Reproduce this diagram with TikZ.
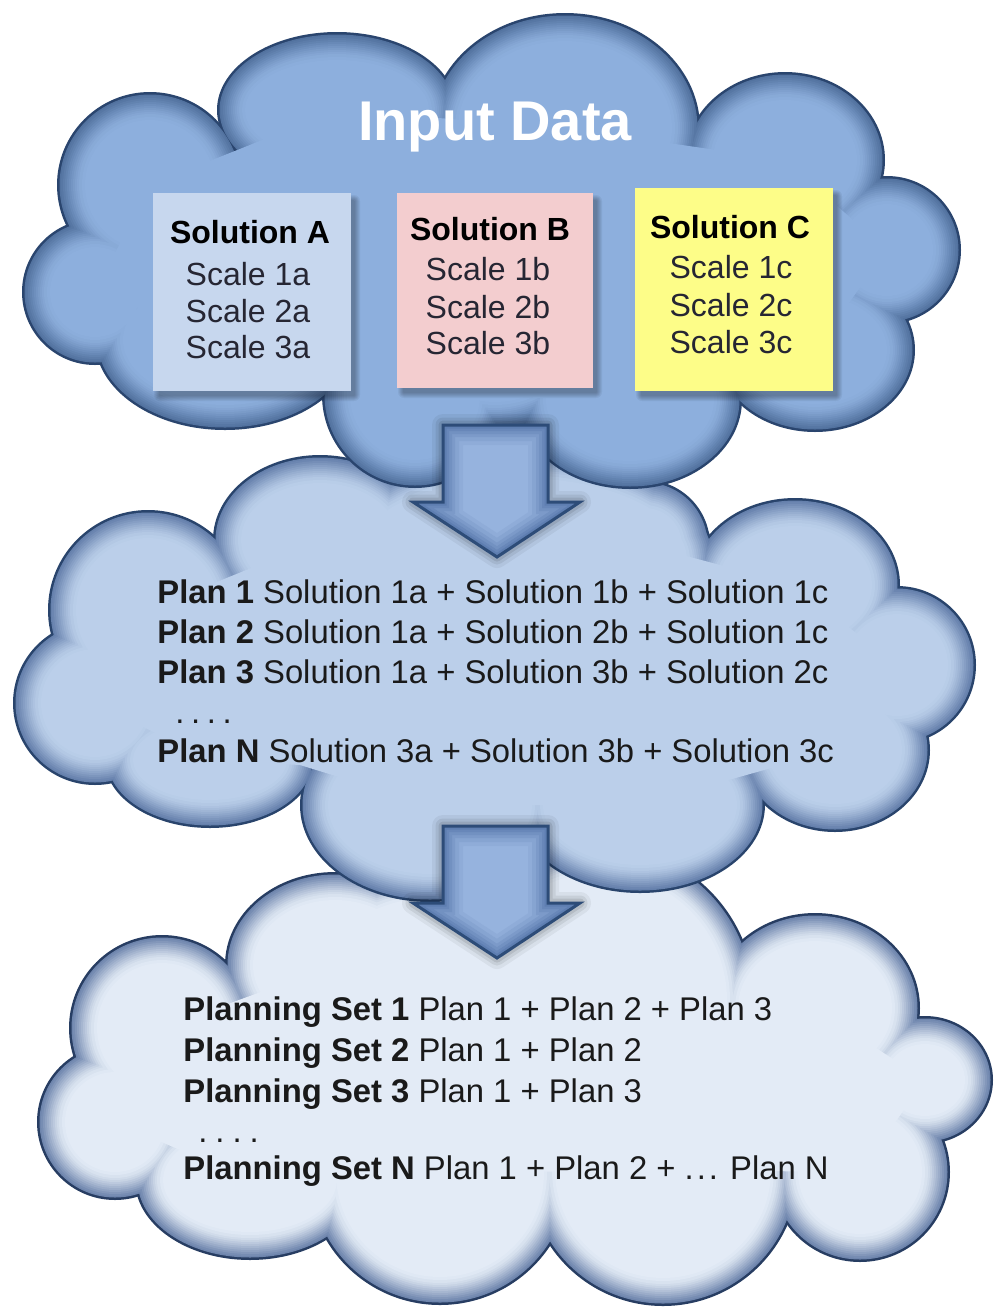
\documentclass[tikz,border=0pt]{standalone}
\usepackage{fontspec}
\setmainfont{Liberation Sans}
\definecolor{tborder}{HTML}{2A456E}
\definecolor{tedge}{HTML}{52729F}
\definecolor{tfill}{HTML}{8DAFDD}
\definecolor{mborder}{HTML}{29446C}
\definecolor{medge}{HTML}{6580AC}
\definecolor{mfill}{HTML}{BBCFEA}
\definecolor{bborder}{HTML}{273D62}
\definecolor{bedge}{HTML}{6E85AD}
\definecolor{bfill}{HTML}{E3EBF6}
\definecolor{aborder}{HTML}{2D4C78}
\definecolor{aedge}{HTML}{5878AC}
\definecolor{afill}{HTML}{96B3DE}
\definecolor{boxA}{HTML}{C7D7EE}
\definecolor{boxB}{HTML}{F3CDCF}
\definecolor{boxC}{HTML}{FDFD88}
\definecolor{txtc}{HTML}{1A1A1A}
\definecolor{boxtxtc}{HTML}{262633}

% #1 list of ellipses cx/cy/rx/ry, #2 border, #3 edge, #4 fill, #5 interior polygon
\newcommand\cloudlayers[5]{%
  \foreach \cx/\cy/\rx/\ry in #1 {\fill[#2] (\cx,\cy) ellipse [x radius=\rx*0.5pt, y radius=\ry*0.5pt];}%
  \foreach \dlt/\pct in {2.5/0,4/8,6/18,8/28,10/38,12/48,14/58,16/67,18/76,20/84,22/91,25/97,28/100} {%
    \foreach \cx/\cy/\rx/\ry in #1 {\fill[#4!\pct!#3] (\cx,\cy) ellipse [x radius={(\rx-\dlt)*0.5pt}, y radius={(\ry-\dlt)*0.5pt}];}%
  }%
  \fill[#4] #5;%
}

\newcommand\fatarrow[1]{%
  \begin{scope}[shift={(0,#1)}]
    \def\arrowpath{(443,0) -- (548,0) -- (548,77) -- (580,77) -- (497,132) -- (413,77) -- (443,77) -- cycle}
    \foreach \w/\o in {22/0.05,15/0.07,9/0.09} {\draw[black, opacity=\o, line width=\w*0.5pt, line join=round] \arrowpath;}
    \fill[afill] \arrowpath;
    \begin{scope}
      \clip \arrowpath;
      \foreach \w/\pct in {40/88,32/74,24/58,18/42,12/26,7/10} {\draw[afill!\pct!aedge, line width=\w*0.5pt, line join=miter] \arrowpath;}
    \end{scope}
    \draw[aborder, line width=1.5pt, line join=miter] \arrowpath;
  \end{scope}
}

\newcommand\boxshadow[4]{%
  \foreach \k in {1,...,6} {\fill[black, opacity=0.05, rounded corners=\k*0.5pt] (#1+7-\k, #2+8-\k) rectangle (#3+3+\k, #4+4+\k);}%
}

\def\topshapes{565/128/135/115, 337/110/120/78, 150/185/93/93, 95/292/73/73, 225/340/130/90, 415/395/93/93, 495/330/110/100, 630/400/112/89, 815/350/100/82, 887/250/74/74, 785/160/100/88}
\def\midshapes{320/540/107/85, 148/610/100/100, 95/703/82/82, 210/760/105/68, 430/805/130/97, 640/805/125/88, 835/750/95/82, 897/665/79/79, 795/585/105/87, 520/560/195/110, 645/545/65/65}
\def\botshapes{335/965/110/93, 162/1028/93/93, 115/1122/78/78, 250/1180/115/80, 440/1173/132/132, 663/1170/136/136, 860/1172/90/90, 925/1080/68/64, 815/1008/105/95, 600/1000/155/155, 430/990/140/120}

\begin{document}
\begin{tikzpicture}[x=0.5pt, y=-0.5pt,
  line/.style={inner sep=0pt, anchor=base west, text=txtc, font=\fontsize{16.4pt}{19pt}\selectfont},
  boxline/.style={inner sep=0pt, anchor=base, text=boxtxtc, font=\fontsize{16pt}{19pt}\selectfont},
  boxtitle/.style={inner sep=0pt, anchor=base, text=black, font=\fontsize{16pt}{19pt}\selectfont\bfseries},
  card/.style={inner sep=0pt, draw=none}]
\useasboundingbox (0,0) rectangle (993,1308);
\fill[white] (0,0) rectangle (993,1308);

% bottom cloud
\cloudlayers{\botshapes}{bborder}{bedge}{bfill}{(335,965) -- (430,990) -- (600,1000) -- (815,1008) -- (925,1080) -- (860,1172) -- (663,1170) -- (440,1173) -- (250,1180) -- (115,1122) -- (162,1028) -- cycle}

% middle cloud
\cloudlayers{\midshapes}{mborder}{medge}{mfill}{(320,540) -- (520,560) -- (645,545) -- (795,585) -- (897,665) -- (835,750) -- (640,805) -- (430,805) -- (300,765) -- (210,760) -- (95,703) -- (148,610) -- cycle}

% arrow from middle to bottom
\fatarrow{826}

% top cloud
\cloudlayers{\topshapes}{tborder}{tedge}{tfill}{(565,128) -- (785,160) -- (887,250) -- (815,350) -- (630,400) -- (415,395) -- (225,340) -- (95,292) -- (150,185) -- (337,110) -- cycle}

% cards
\boxshadow{153}{193}{351}{391}
\boxshadow{397}{193}{593}{388}
\boxshadow{635}{188}{833}{391}
\node[card, fill=boxA, minimum width=99pt, minimum height=99pt] (cardA) at (252,292) {};
\node[card, fill=boxB, minimum width=98pt, minimum height=97.5pt] (cardB) at (495,290.5) {};
\node[card, fill=boxC, minimum width=99pt, minimum height=101.5pt] (cardC) at (734,289.5) {};

% arrow from top to middle
\fatarrow{425}

% title
\node[inner sep=0pt, anchor=base, text=white, font=\fontsize{28pt}{32pt}\selectfont\bfseries] (title) at (495,140) {Input Data};

% card texts
\node[boxtitle] (tA) at (250,243) {Solution A};
\node[boxline] (a1) at (248,285) {Scale 1a};
\node[boxline] (a2) at (248,322) {Scale 2a};
\node[boxline] (a3) at (248,358) {Scale 3a};
\node[boxtitle] (tB) at (490,240) {Solution B};
\node[boxline] (b1) at (488,280) {Scale 1b};
\node[boxline] (b2) at (488,318) {Scale 2b};
\node[boxline] (b3) at (488,354) {Scale 3b};
\node[boxtitle] (tC) at (730,238) {Solution C};
\node[boxline] (c1) at (731,278) {Scale 1c};
\node[boxline] (c2) at (731,316) {Scale 2c};
\node[boxline] (c3) at (731,353) {Scale 3c};

% plans
\node[line] (p1) at (157,603) {\textbf{Plan 1} Solution 1a + Solution 1b + Solution 1c};
\node[line] (p2) at (157,643) {\textbf{Plan 2} Solution 1a + Solution 2b + Solution 1c};
\node[line] (p3) at (157,683) {\textbf{Plan 3} Solution 1a + Solution 3b + Solution 2c};
\node[line] (pd) at (175,723) {.\kern3.3pt.\kern3.3pt.\kern3.3pt.};
\node[line] (pn) at (157,762) {\textbf{Plan N} Solution 3a + Solution 3b + Solution 3c};

% planning sets
\node[line] (s1) at (183,1020) {\textbf{Planning Set 1} Plan 1 + Plan 2 + Plan 3};
\node[line] (s2) at (183,1061) {\textbf{Planning Set 2} Plan 1 + Plan 2};
\node[line] (s3) at (183,1102) {\textbf{Planning Set 3} Plan 1 + Plan 3};
\node[line] (sd) at (198,1142) {.\kern4pt.\kern4pt.\kern4pt.};
\node[line] (sn) at (183,1179) {\textbf{Planning Set N} Plan 1 + Plan 2 + .\kern1.5pt.\kern1.5pt. Plan N};
\end{tikzpicture}
\end{document}
